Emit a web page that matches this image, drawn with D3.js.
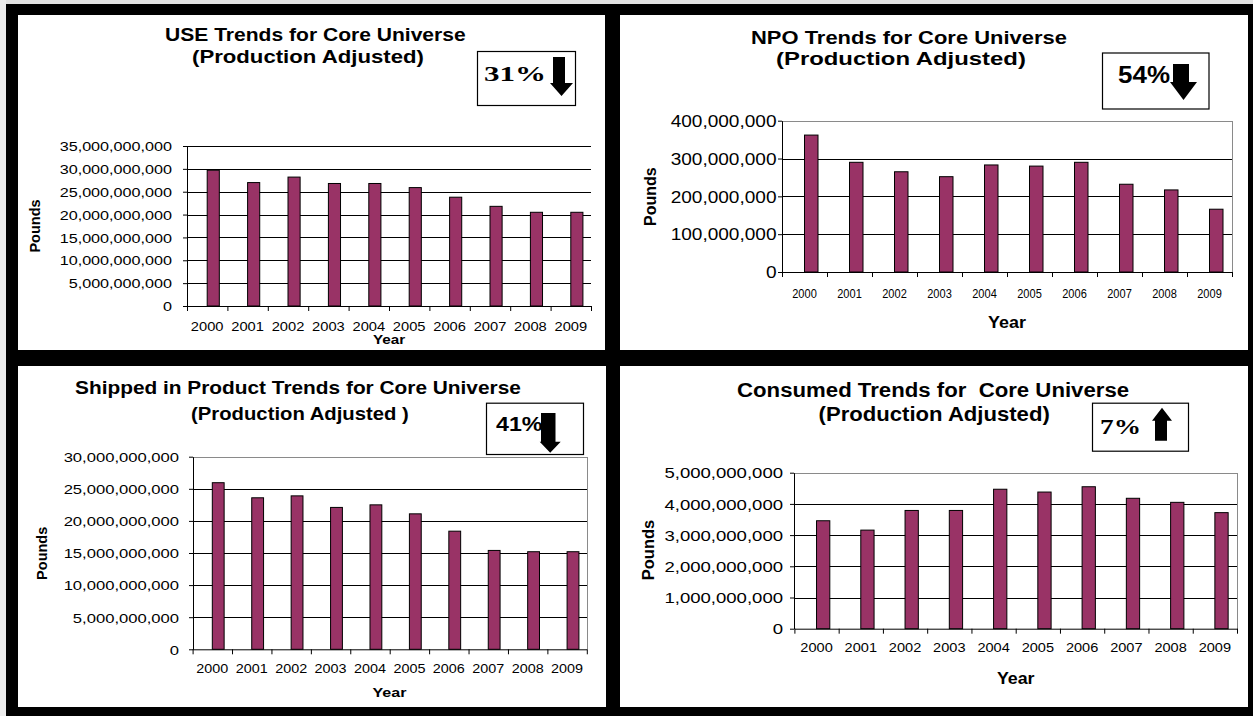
<!DOCTYPE html>
<html><head><meta charset="utf-8">
<script src="https://cdn.jsdelivr.net/npm/d3@7"></script>
<style>html,body{margin:0;padding:0;background:#000;} svg{display:block;}</style>
</head><body><svg id="c" width="1253" height="716"></svg>
<script>
// ---------- DATA ----------
const years = ["2000","2001","2002","2003","2004","2005","2006","2007","2008","2009"];
const useValues      = [29.7e9, 27.0e9, 28.2e9, 26.8e9, 26.8e9, 25.9e9, 23.8e9, 21.8e9, 20.5e9, 20.5e9];
const npoValues      = [362e6, 290e6, 265e6, 252e6, 283e6, 280e6, 290e6, 232e6, 217e6, 166e6];
const shippedValues  = [25.95e9, 23.6e9, 23.9e9, 22.1e9, 22.5e9, 21.1e9, 18.4e9, 15.4e9, 15.2e9, 15.2e9];
const consumedValues = [3.46e9, 3.16e9, 3.79e9, 3.79e9, 4.47e9, 4.38e9, 4.55e9, 4.18e9, 4.05e9, 3.72e9];
const useTicks      = [0, 5e9, 10e9, 15e9, 20e9, 25e9, 30e9, 35e9];
const npoTicks      = [0, 100e6, 200e6, 300e6, 400e6];
const shippedTicks  = [0, 5e9, 10e9, 15e9, 20e9, 25e9, 30e9];
const consumedTicks = [0, 1e9, 2e9, 3e9, 4e9, 5e9];
const useTitle      = ["USE Trends for Core Universe", "(Production Adjusted)"];
const npoTitle      = ["NPO Trends for Core Universe", "(Production Adjusted)"];
const shippedTitle  = ["Shipped in Product Trends for Core Universe", "(Production Adjusted )"];
const consumedTitle = ["Consumed Trends for\u00a0 Core Universe", "(Production Adjusted)"];
const useBadge = "31%", npoBadge = "54%", shippedBadge = "41%", consumedBadge = "7%";
const yLabel = "Pounds", xLabel = "Year";

// ---------- LAYOUT ----------
const SANS = "Liberation Sans, Arial, Helvetica, sans-serif";
const SERIF = "Liberation Serif, Times New Roman, DejaVu Serif, serif";
const BAR = "#993366";

const layouts = [
 { panel:[18,15,605,350], x0:187, x1:591, yTop:146, y0:306, border:false,
   yFont:13, ySX:1.245, yPad:11, xFont:12.5, xSX:1.176, xBase:331,
   yearFont:13, yearSX:1.17, yearX:389, yearBase:344,
   pFont:14.5, pX:39.5, pY:226,
   tFont:18, t1:[315.5,40.7,301], t2:[308,63,232],
   box:[477,51,575,105], bFont:21, bSerif:true, bText:[484,81,62],
   arrow:{dir:"down", sx0:553, sx1:565, top:57, hx0:550, hx1:573, hy:83, tip:96} },
 { panel:[620,15,1248,350], x0:782, x1:1232, yTop:120.7, y0:272, border:true,
   yFont:16, ySX:1.19, yPad:1.5, xFont:12, xSX:0.92, xBase:298,
   yearFont:16, yearSX:1.12, yearX:1007, yearBase:328,
   pFont:16, pX:655.5, pY:196.7,
   tFont:18.5, t1:[909,43.5,316], t2:[901,65,250],
   box:[1102,52.5,1208.5,108.5], bFont:24, bSerif:false, bText:[1118,82.5,52],
   arrow:{dir:"down", sx0:1173, sx1:1189, top:64, hx0:1170, hx1:1197, hy:82, tip:100} },
 { panel:[18,366,606,707], x0:192.6, x1:586.8, yTop:456.7, y0:649.3, border:true,
   yFont:13.5, ySX:1.23, yPad:10, xFont:12.5, xSX:1.15, xBase:673.5,
   yearFont:13.5, yearSX:1.19, yearX:389.5, yearBase:697,
   pFont:14.5, pX:46.7, pY:553.3,
   tFont:18, t1:[298,394,446], t2:[300,419.5,218],
   box:[486,402.7,583,454], bFont:20, bSerif:false, bText:[496,430.7,46.5],
   arrow:{dir:"down", sx0:541, sx1:555.5, top:413, hx0:539.7, hx1:560.7, hy:441.7, tip:452.7} },
 { panel:[620,366,1248,707], x0:794.4, x1:1237, yTop:472.7, y0:628.7, border:true,
   yFont:14.5, ySX:1.28, yPad:7, xFont:13, xSX:1.12, xBase:652,
   yearFont:16.5, yearSX:1.08, yearX:1015.7, yearBase:683.5,
   pFont:16.5, pX:654, pY:550,
   tFont:19.5, t1:[933.3,397,392.5], t2:[934.3,421,231.4],
   box:[1092,402.7,1188,450.7], bFont:21, bSerif:true, bText:[1100,434,41],
   arrow:{dir:"up", sx0:1155, sx1:1167, top:407.7, hx0:1152, hx1:1172, hy:420.7, tip:440.7} }
];

const charts = [
 { values: useValues, ticks: useTicks, title: useTitle, badge: useBadge, layout: layouts[0] },
 { values: npoValues, ticks: npoTicks, title: npoTitle, badge: npoBadge, layout: layouts[1] },
 { values: shippedValues, ticks: shippedTicks, title: shippedTitle, badge: shippedBadge, layout: layouts[2] },
 { values: consumedValues, ticks: consumedTicks, title: consumedTitle, badge: consumedBadge, layout: layouts[3] }
];

// ---------- DRAW ----------
const svg = d3.select("#c");
svg.append("rect").attr("width",1253).attr("height",716).attr("fill","#000");
svg.append("rect").attr("x",0).attr("y",0).attr("width",1253).attr("height",4).attr("fill","#e2e2e2");
svg.append("rect").attr("x",0).attr("y",0).attr("width",6).attr("height",716).attr("fill","#ececec");

// place text so that it starts at x, sits on baseline y, and spans exactly width w
function fitText(parent, str, x, y, w, font, size, weight) {
  const t = parent.append("text").text(str)
    .attr("x", 0).attr("y", 0)
    .attr("font-family", font).attr("font-weight", weight).attr("font-size", size).attr("fill", "#000");
  const natural = t.node().getComputedTextLength() || w;
  t.attr("transform", `translate(${x},${y}) scale(${w / natural},1)`);
  return t;
}

function drawChart(c) {
  const L = c.layout;
  const [px0,py0,px1,py1] = L.panel;
  svg.append("rect").attr("x",px0).attr("y",py0).attr("width",px1-px0).attr("height",py1-py0).attr("fill","#fff");
  const g = svg.append("g");

  const x = d3.scaleBand().domain(years).range([L.x0, L.x1]).padding(0);
  const xb = d3.scaleLinear().domain([0, years.length]).range([L.x0, L.x1]);
  const y = d3.scaleLinear().domain([0, d3.max(c.ticks)]).range([L.y0, L.yTop]);

  // gridlines
  g.append("g").selectAll("line").data(c.ticks.filter(t => t > 0)).join("line")
    .attr("x1", L.x0).attr("x2", L.x1)
    .attr("y1", d => Math.round(y(d)) + 0.5).attr("y2", d => Math.round(y(d)) + 0.5)
    .attr("stroke", "#000").attr("stroke-width", 1).attr("shape-rendering","crispEdges");

  if (L.border) {
    g.append("path")
      .attr("d", `M${L.x0},${Math.round(L.yTop)+0.5}H${Math.round(L.x1)+0.5}V${L.y0}`)
      .attr("fill","none").attr("stroke","#8a8a8a").attr("stroke-width",1).attr("shape-rendering","crispEdges");
  }

  // bars
  g.append("g").selectAll("rect").data(c.values).join("rect")
    .attr("x", (d,i) => x(years[i]) + x.bandwidth()*0.5)
    .attr("width", x.bandwidth()*0.3)
    .attr("y", d => y(d))
    .attr("height", d => L.y0 - y(d))
    .attr("fill", BAR).attr("stroke", "#000").attr("stroke-width", 1);

  // y axis
  const ya = g.append("g").attr("transform", `translate(${Math.round(L.x0)},0)`)
    .call(d3.axisLeft(y).tickValues(c.ticks).tickFormat(d3.format(",")).tickSize(4).tickSizeOuter(0).tickPadding(L.yPad));
  ya.attr("font-family", SANS).attr("font-size", L.yFont);
  ya.selectAll("line,path").attr("stroke","#000");
  ya.selectAll("text").attr("fill","#000")
    .attr("transform", `scale(${L.ySX},1)`)
    .attr("x", -(4 + L.yPad) / L.ySX)
    .attr("dy", "0.36em");

  // x axis boundary ticks + line
  const xt = g.append("g").attr("transform", `translate(0,${L.y0})`)
    .call(d3.axisBottom(xb).tickValues(d3.range(years.length + 1)).tickSize(5).tickSizeOuter(0).tickFormat(""));
  xt.selectAll("line,path").attr("stroke","#000");

  // x axis labels
  const xa = g.append("g").attr("transform", `translate(0,${L.y0})`)
    .call(d3.axisBottom(x).tickSize(0).tickPadding(0));
  xa.select(".domain").remove();
  xa.attr("font-family", SANS).attr("font-size", L.xFont);
  xa.selectAll("text").attr("fill","#000")
    .attr("dy", null).attr("y", L.xBase - L.y0)
    .attr("transform", `scale(${L.xSX},1)`);

  // axis titles
  g.append("text").text(xLabel)
    .attr("transform", `translate(${L.yearX},${L.yearBase}) scale(${L.yearSX},1)`)
    .attr("text-anchor","middle").attr("font-family",SANS).attr("font-weight","bold")
    .attr("font-size", L.yearFont).attr("fill","#000");
  g.append("text").text(yLabel)
    .attr("transform", `translate(${L.pX},${L.pY}) rotate(-90)`)
    .attr("text-anchor","middle").attr("font-family",SANS).attr("font-weight","bold")
    .attr("font-size", L.pFont).attr("fill","#000");

  // chart title
  [L.t1, L.t2].forEach((t, i) => {
    fitText(g, c.title[i], t[0] - t[2]/2, t[1], t[2], SANS, L.tFont, "bold");
  });

  // badge
  const [bx0,by0,bx1,by1] = L.box;
  g.append("rect").attr("x", bx0+0.5).attr("y", by0+0.5).attr("width", bx1-bx0).attr("height", by1-by0)
    .attr("fill","#fff").attr("stroke","#000").attr("stroke-width",1.2);
  fitText(g, c.badge, L.bText[0], L.bText[1], L.bText[2], L.bSerif ? SERIF : SANS, L.bFont, "bold");
  const a = L.arrow;
  let pts;
  if (a.dir === "down") {
    pts = [[a.sx0,a.top],[a.sx1,a.top],[a.sx1,a.hy],[a.hx1,a.hy],[(a.hx0+a.hx1)/2,a.tip],[a.hx0,a.hy],[a.sx0,a.hy]];
  } else {
    pts = [[a.sx0,a.tip],[a.sx1,a.tip],[a.sx1,a.hy],[a.hx1,a.hy],[(a.hx0+a.hx1)/2,a.top],[a.hx0,a.hy],[a.sx0,a.hy]];
  }
  g.append("polygon").attr("points", pts.map(p => p.join(",")).join(" ")).attr("fill","#000");
}

charts.forEach(drawChart);
</script>
</body></html>
